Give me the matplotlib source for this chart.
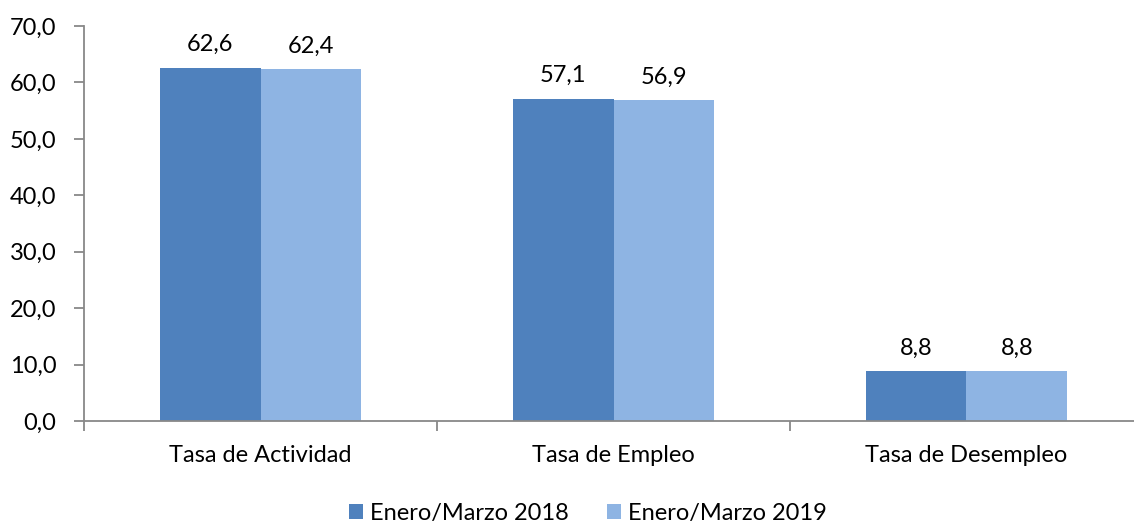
import matplotlib
matplotlib.use("Agg")
import matplotlib.pyplot as plt
import numpy as np

categories = ["Tasa de Actividad", "Tasa de Empleo", "Tasa de Desempleo"]
series_names = ["Enero/Marzo 2018", "Enero/Marzo 2019"]
values_2018 = [62.6, 57.1, 8.8]
values_2019 = [62.4, 56.9, 8.8]
y_ticks = [0, 10, 20, 30, 40, 50, 60, 70]

plt.rcParams['font.family'] = ['Lato', 'DejaVu Sans']
FS = 17

fig = plt.figure(figsize=(11.34, 5.24), dpi=100)
ax = fig.add_axes([84/1134, (524-421)/524, 1059/1134, (421-26)/524])

colors = ["#4F81BD", "#8EB4E3"]
x = np.arange(len(categories))
w = 0.286
b1 = ax.bar(x - w/2, values_2018, width=w, color=colors[0], label=series_names[0])
b2 = ax.bar(x + w/2, values_2019, width=w, color=colors[1], label=series_names[1])

def fmt(v):
    return f"{v:.1f}".replace(".", ",")

for bars, vals in ((b1, values_2018), (b2, values_2019)):
    for r, v in zip(bars, vals):
        ax.annotate(fmt(v), (r.get_x() + r.get_width()/2, v), xytext=(0, 9),
                    textcoords="offset points", ha="center", va="bottom", fontsize=FS)

ax.set_xlim(-0.5, len(categories) - 0.5)
ax.set_ylim(0, 70)
ax.set_yticks(y_ticks)
ax.set_yticklabels([fmt(t) for t in y_ticks], fontsize=FS)
ax.set_xticks(x)
ax.set_xticklabels(categories, fontsize=FS)
ax.tick_params(axis='x', length=0, pad=17)
ax.set_xticks(np.arange(len(categories) + 1) - 0.5, minor=True)
ax.tick_params(axis='x', which='minor', length=7, color="#888888", width=1.3)
ax.tick_params(axis='y', length=7, color="#888888", width=1.3, pad=13)

for s in ("top", "right"):
    ax.spines[s].set_visible(False)
for s in ("left", "bottom"):
    ax.spines[s].set_color("#888888")
    ax.spines[s].set_linewidth(1.3)

fig.legend(handles=[b1, b2], labels=series_names, loc="lower center",
           bbox_to_anchor=(588/1134, -0.04), ncol=2, frameon=False, fontsize=FS,
           handlelength=0.6, handleheight=0.6, handletextpad=0.3, columnspacing=1.6)

fig.savefig("out.png", dpi=100)
